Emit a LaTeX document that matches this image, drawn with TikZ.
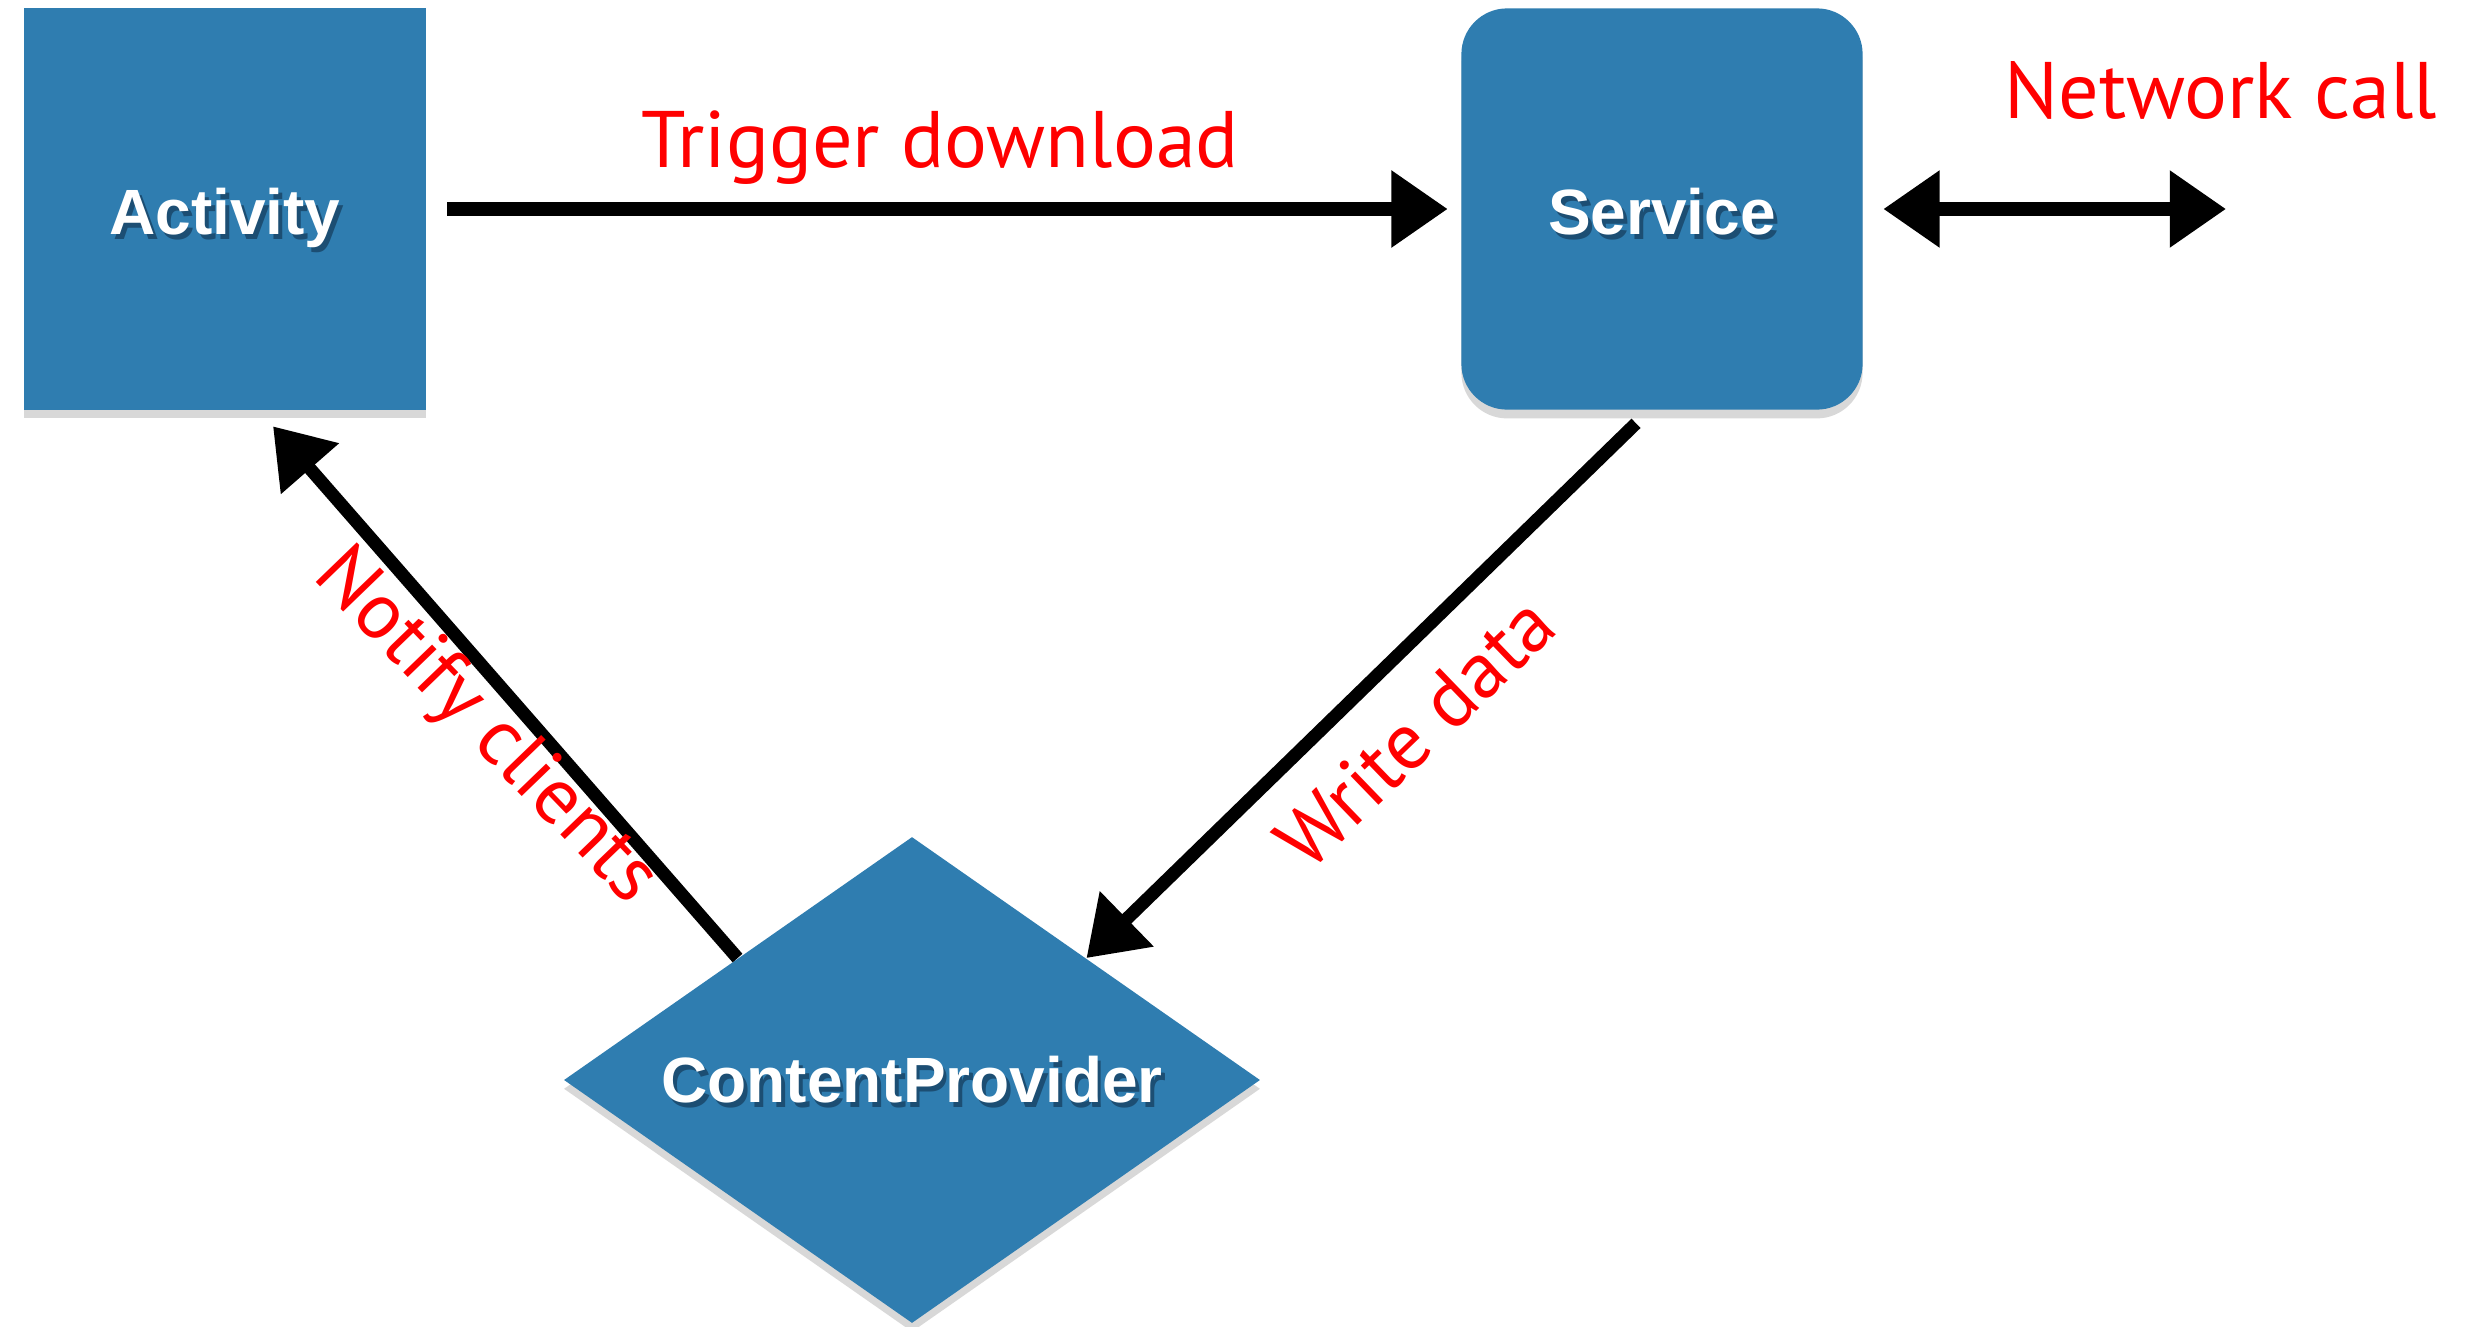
\documentclass[tikz,border=0pt]{standalone}
\usepackage{fontspec}
\setmainfont{Liberation Sans}
\newfontfamily\redfont{PT Sans}
\usetikzlibrary{arrows.meta,shapes.geometric,shadows,calc}
\definecolor{boxblue}{RGB}{47,125,176}
\definecolor{txtshadow}{RGB}{28,78,115}
\newcommand\shadowed[1]{\rlap{\kern1.1pt\raisebox{-1.4pt}{\color{txtshadow}#1}}#1}
\begin{document}
\begin{tikzpicture}[x=0.01cm,y=-0.01cm,
  box/.style={fill=boxblue, draw=none, minimum width=4.01cm, minimum height=4.01cm,
    inner sep=0pt, text=white, font=\fontsize{18.2}{20}\selectfont\bfseries,
    text height=13pt, text depth=0pt,
    drop shadow={opacity=0.3, shadow xshift=0pt, shadow yshift=-2.5pt}},
  cpbox/.style={box, shape=diamond, aspect=1.432, minimum width=6.96cm, minimum height=4.86cm},
  lbl/.style={text=red, font=\redfont\fontsize{22.8}{24}\selectfont, inner sep=0pt},
  flow/.style={line width=3.7pt, -{Triangle[length=16pt,width=21pt]}},
]
\fill[white] (0,0) rectangle (2469,1327);
\useasboundingbox (0,0) rectangle (2469,1327);

\node[box] (act) at (225,209) {};
\node[box, rounded corners=13pt] (svc) at (1662,209) {};
\node[cpbox] (cp) at (912,1080) {};
\node[text=white, font=\fontsize{18.2}{20}\selectfont\bfseries, text height=13pt, text depth=0pt, inner sep=0pt] (actt) at (225,212) {\shadowed{Activity}};
\node[text=white, font=\fontsize{18.2}{20}\selectfont\bfseries, text height=13pt, text depth=0pt, inner sep=0pt] (svct) at (1662,212) {\shadowed{Service}};
\node[text=white, font=\fontsize{18.2}{20}\selectfont\bfseries, text height=13pt, text depth=0pt, inner sep=0pt] (cpt) at (912,1080) {\shadowed{ContentProvider}};
\coordinate (net) at (2226,209);

\draw[flow, shorten <=6pt, shorten >=3.7pt] (act.east) -- (svc.west);
\draw[line width=3.7pt, {Triangle[length=16pt,width=21pt]}-{Triangle[length=16pt,width=21pt]}, shorten <=5.7pt] (svc.east) -- (net);
\draw[flow] ($(svc.south)+(-26,13)$) -- (cp.north east);
\draw[flow] (cp.north west) -- ($(act.south)+(48,16)$);

\node[lbl, anchor=base] (trig) at (940,167) {Trigger download};
\node[lbl, anchor=base] (netl) at (2221,118) {Network call};
\node[lbl, rotate=44] (write) at (1415,732) {Write data};
\node[lbl, rotate=-46] (notify) at (485,728) {Notify clients};
\end{tikzpicture}
\end{document}
